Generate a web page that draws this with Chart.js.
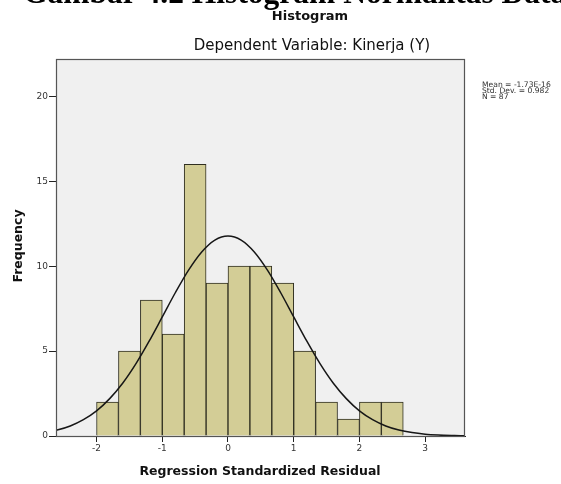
<!DOCTYPE html>
<html>
<head>
<meta charset="utf-8">
<script src="https://cdn.jsdelivr.net/npm/chart.js@4/dist/chart.umd.min.js"></script>
<style>
html,body{margin:0;padding:0;background:#fff;}
#wrap{position:relative;width:561px;height:484px;}
</style>
</head>
<body>
<div id="wrap"><canvas id="c" width="561" height="484"></canvas></div>
<script>
// ---- data ----
const binEdges = [-2, -1.667, -1.333, -1, -0.667, -0.333, 0, 0.333, 0.667, 1, 1.333, 1.667, 2, 2.333, 2.667];
const frequencies = [2, 5, 8, 6, 16, 9, 10, 10, 9, 5, 2, 1, 2, 2];
const curveX = [-2.8, -2.6, -2.4, -2.2, -2.0, -1.8, -1.6, -1.4, -1.2, -1.0, -0.8, -0.6, -0.4, -0.2, 0, 0.2, 0.4, 0.6, 0.8, 1.0, 1.2, 1.4, 1.6, 1.8, 2.0, 2.2, 2.4, 2.6, 2.8, 3.0, 3.2, 3.4, 3.6, 3.8];
const curveY = [0.20, 0.35, 0.59, 0.96, 1.48, 2.20, 3.12, 4.26, 5.58, 7.01, 8.45, 9.77, 10.84, 11.54, 11.78, 11.54, 10.84, 9.77, 8.45, 7.01, 5.58, 4.26, 3.12, 2.20, 1.48, 0.96, 0.59, 0.35, 0.20, 0.11, 0.06, 0.03, 0.01, 0.01];
const xTicks = [-2, -1, 0, 1, 2, 3];
const yTicks = [0, 5, 10, 15, 20];
const mainTitle = "Gambar 4.2 Histogram Normalitas Data";
const chartTitle = "Histogram";
const subTitle = "Dependent Variable: Kinerja (Y)";
const statsLines = ["Mean = -1.73E-16", "Std. Dev. = 0.982", "N = 87"];
const xTitle = "Regression Standardized Residual";
const yTitle = "Frequency";

const barPoints = frequencies.map((f, i) => ({x: (binEdges[i] + binEdges[i + 1]) / 2, y: f}));
const curvePoints = curveX.map((x, i) => ({x: x, y: curveY[i]}));

const textPlugin = {
  id: 'texts',
  beforeDraw(chart) {
    const {ctx, chartArea: a} = chart;
    ctx.save();
    ctx.fillStyle = '#f0f0f0';
    ctx.fillRect(a.left, a.top, a.right - a.left, a.bottom - a.top);
    ctx.restore();
  },
  afterDraw(chart) {
    const {ctx, chartArea: a} = chart;
    ctx.save();
    ctx.strokeStyle = '#555';
    ctx.lineWidth = 1.2;
    ctx.strokeRect(a.left + 0.5, a.top + 0.5, a.right - a.left - 1, a.bottom - a.top);
    ctx.fillStyle = '#000';
    ctx.textBaseline = 'alphabetic';
    ctx.textAlign = 'left';
    ctx.font = 'bold 31.5px "Liberation Serif"';
    ctx.fillText(mainTitle, 23, 3);
    ctx.fillStyle = '#111';
    ctx.textAlign = 'center';
    ctx.textBaseline = 'middle';
    ctx.font = 'bold 13px "DejaVu Sans"';
    ctx.fillText(chartTitle, 310, 17);
    ctx.font = '15px "DejaVu Sans"';
    ctx.fillText(subTitle, 312, 46);
    ctx.font = 'bold 12.5px "DejaVu Sans"';
    ctx.fillText(xTitle, 260, 472);
    ctx.save();
    ctx.translate(19, 246);
    ctx.rotate(-Math.PI / 2);
    ctx.fillText(yTitle, 0, 0);
    ctx.restore();
    ctx.textAlign = 'left';
    ctx.fillStyle = '#333';
    ctx.font = '7.6px "DejaVu Sans"';
    statsLines.forEach((s, i) => ctx.fillText(s, 482, 85.5 + i * 6));
    ctx.restore();
  }
};

new Chart(document.getElementById('c'), {
  data: {
    datasets: [
      {
        type: 'line',
        data: curvePoints,
        borderColor: '#161616',
        borderWidth: 1.5,
        pointRadius: 0,
        fill: false,
        cubicInterpolationMode: 'monotone',
        order: 0
      },
      {
        type: 'bar',
        data: barPoints,
        backgroundColor: '#d3cd96',
        borderColor: '#2f2e20',
        borderWidth: 1,
        barPercentage: 1,
        categoryPercentage: 1,
        grouped: false,
        order: 1
      }
    ]
  },
  options: {
    responsive: false,
    animation: false,
    devicePixelRatio: 1,
    layout: {padding: {top: 59, right: 96, left: 0, bottom: 0}},
    plugins: {legend: {display: false}, tooltip: {enabled: false}},
    scales: {
      x: {
        type: 'linear',
        offset: false,
        min: -2.617,
        max: 3.606,
        afterFit(s) { s.height = 48; },
        afterBuildTicks(s) { s.ticks = xTicks.map(v => ({value: v})); },
        grid: {display: true, offset: false, drawOnChartArea: false, drawTicks: true, tickLength: 6, tickColor: '#222', lineWidth: 1},
        border: {display: true, color: '#222', width: 1},
        ticks: {color: '#333', font: {family: 'DejaVu Sans', size: 9}, padding: 1, maxRotation: 0}
      },
      y: {
        type: 'linear',
        min: 0,
        max: 22.2,
        afterFit(s) { s.width = 56; },
        afterBuildTicks(s) { s.ticks = yTicks.map(v => ({value: v})); },
        grid: {display: true, drawOnChartArea: false, drawTicks: true, tickLength: 7, tickColor: '#222', lineWidth: 1},
        border: {display: true, color: '#222', width: 1},
        ticks: {color: '#333', font: {family: 'DejaVu Sans', size: 9}, padding: 1}
      }
    }
  },
  plugins: [textPlugin]
});
</script>
</body>
</html>
